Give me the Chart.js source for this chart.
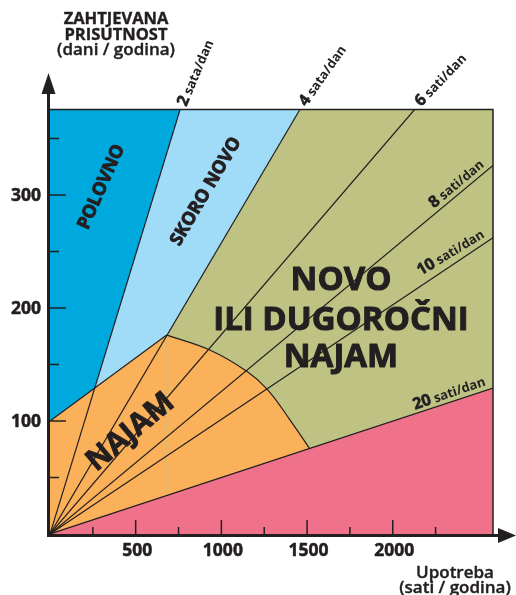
<!DOCTYPE html>
<html>
<head>
<meta charset="utf-8">
<script src="https://cdn.jsdelivr.net/npm/chart.js@4/dist/chart.umd.min.js"></script>
<style>
  body { margin: 0; background: #fff; }
  #wrap { width: 516px; height: 595px; }
</style>
</head>
<body>
<div id="wrap"><canvas id="chart" width="516" height="595"></canvas></div>
<script>
// axis ranges (sati/godina, dani/godina)
const xMax = 2585;
const yMax = 376;

// tick marks and labels
const xTickLabels = [500, 1000, 1500, 2000];
const xMinorTicks = [250, 750, 1250, 1750, 2250];
const yTickLabels = [100, 200, 300];
const yMinorTicks = [50, 150, 250, 350];

// lines of constant daily use, from the origin to where they leave the plot
const hourLabels = ['2 sata/dan', '4 sata/dan', '6 sati/dan', '8 sati/dan', '10 sati/dan', '20 sati/dan'];
const hourEndX = [760, 1460, 2130, 2585, 2585, 2585];
const hourEndY = [376, 376, 376, 326, 262, 129];

// border between the blue zones and NAJAM
const rentEdgeX = [0, 681];
const rentEdgeY = [100, 176];

// curved border of NAJAM
const arcX = [681, 929, 1148, 1268, 1400, 1513];
const arcY = [176, 163, 144, 128, 101, 76];

const ink = '#231f20';
const colors = {
    darkBlue: '#00a9dd',
    lightBlue: '#a0dcf7',
    green: '#bec384',
    orange: '#fbb15a',
    pink: '#f0728a'
};
const FONT = '"Open Sans", "DejaVu Sans", sans-serif';

function pts(xs, ys) {
    return xs.map((x, i) => ({ x: x, y: ys[i] }));
}

// datasets: index 0 is drawn on top
const datasets = [];

hourLabels.forEach((lbl, i) => {
    datasets.push({
        data: pts([0, hourEndX[i]], [0, hourEndY[i]]),
        borderColor: ink, borderWidth: 1.2, fill: false
    });
});
// pink zone under 20 sati/dan
datasets.push({
    data: pts([0, hourEndX[5]], [0, hourEndY[5]]),
    borderWidth: 0, borderColor: 'transparent',
    backgroundColor: colors.pink, fill: 'origin'
});
// NAJAM, curved part
datasets.push({
    data: pts(arcX, arcY),
    borderColor: ink, borderWidth: 1.2,
    tension: 0.4,
    backgroundColor: colors.orange, fill: 'origin'
});
// NAJAM, straight part
datasets.push({
    data: pts(rentEdgeX, rentEdgeY),
    borderColor: ink, borderWidth: 1.2,
    backgroundColor: colors.orange, fill: 'origin'
});
// POLOVNO, left of 2 sata/dan
datasets.push({
    data: pts([0, hourEndX[0]], [0, hourEndY[0]]),
    borderWidth: 0, borderColor: 'transparent',
    backgroundColor: colors.darkBlue, fill: 'end'
});
// SKORO NOVO, left of 4 sata/dan
datasets.push({
    data: pts([0, hourEndX[1]], [0, hourEndY[1]]),
    borderWidth: 0, borderColor: 'transparent',
    backgroundColor: colors.lightBlue, fill: 'end'
});
// NOVO background
datasets.push({
    data: pts([0, xMax], [0, 0]),
    borderWidth: 0, borderColor: 'transparent',
    backgroundColor: colors.green, fill: 'end'
});

// heavy text: fill plus a thin stroke
function heavy(ctx, text, x, y, maxW, sw) {
    ctx.lineWidth = sw;
    ctx.lineJoin = 'round';
    ctx.fillText(text, x, y, maxW);
    ctx.strokeText(text, x, y, maxW);
}

function rotText(ctx, text, cx, cy, deg, font, maxW) {
    ctx.save();
    ctx.translate(cx, cy);
    ctx.rotate(deg * Math.PI / 180);
    ctx.font = font;
    ctx.textAlign = 'center';
    ctx.textBaseline = 'middle';
    heavy(ctx, text, 0, 0, maxW, 0.9);
    ctx.restore();
}

function hourText(ctx, label, ax, ay, deg, align) {
    const parts = label.split(' ');
    const fNum = 'bold 16px ' + FONT;
    const fRest = 'bold 13px ' + FONT;
    ctx.save();
    ctx.translate(ax, ay);
    ctx.rotate(deg * Math.PI / 180);
    ctx.textAlign = 'left';
    ctx.textBaseline = 'alphabetic';
    ctx.font = fNum;
    const w1 = ctx.measureText(parts[0]).width;
    ctx.font = fRest;
    const w2 = ctx.measureText(' ' + parts[1]).width;
    const x0 = align === 'right' ? -(w1 + w2) : 0;
    ctx.font = fNum;
    heavy(ctx, parts[0], x0, 0, undefined, 0.6);
    ctx.font = fRest;
    ctx.fillText(' ' + parts[1], x0 + w1, 0);
    ctx.restore();
}

const hourAngles = [-67, -55, -46, -40, -31, -19];

const decor = {
    id: 'decor',
    afterDatasetsDraw(chart) {
        const { ctx, chartArea: a, scales: { x, y } } = chart;
        ctx.save();
        ctx.strokeStyle = ink;
        ctx.fillStyle = ink;

        // frame top/right
        ctx.lineWidth = 1.5;
        ctx.beginPath();
        ctx.moveTo(a.left, a.top + 0.5);
        ctx.lineTo(a.right, a.top + 0.5);
        ctx.lineTo(a.right, a.bottom);
        ctx.stroke();

        // axes with arrows
        const ax = a.left - 1.5, ay = a.bottom + 1.5;
        ctx.lineWidth = 3;
        ctx.beginPath();
        ctx.moveTo(ax, ay + 1.5);
        ctx.lineTo(ax, 90);
        ctx.moveTo(ax - 1.5, ay);
        ctx.lineTo(500, ay);
        ctx.stroke();
        ctx.beginPath();
        ctx.moveTo(ax, 73);
        ctx.lineTo(ax - 7, 94);
        ctx.lineTo(ax + 7, 94);
        ctx.closePath();
        ctx.fill();
        ctx.beginPath();
        ctx.moveTo(516, ay);
        ctx.lineTo(498, ay - 7.5);
        ctx.lineTo(498, ay + 7.5);
        ctx.closePath();
        ctx.fill();

        // ticks
        ctx.lineWidth = 1.5;
        ctx.beginPath();
        yTickLabels.forEach(v => { const p = y.getPixelForValue(v); ctx.moveTo(a.left, p); ctx.lineTo(a.left + 16, p); });
        yMinorTicks.forEach(v => { const p = y.getPixelForValue(v); ctx.moveTo(a.left, p); ctx.lineTo(a.left + 9, p); });
        xTickLabels.forEach(v => { const p = x.getPixelForValue(v); ctx.moveTo(p, a.bottom); ctx.lineTo(p, a.bottom - 14); });
        xMinorTicks.forEach(v => { const p = x.getPixelForValue(v); ctx.moveTo(p, a.bottom); ctx.lineTo(p, a.bottom - 7); });
        ctx.stroke();

        // tick labels
        ctx.font = 'bold 17.5px ' + FONT;
        ctx.textBaseline = 'alphabetic';
        ctx.textAlign = 'right';
        yTickLabels.forEach(v => heavy(ctx, String(v), 41, y.getPixelForValue(v) + 6.5, undefined, 0.5));
        ctx.textAlign = 'center';
        xTickLabels.forEach(v => heavy(ctx, String(v), x.getPixelForValue(v) + 1.5, 556, undefined, 0.5));

        // axis titles
        ctx.font = 'bold 16.5px ' + FONT;
        heavy(ctx, 'ZAHTJEVANA', 116, 24, 108, 0.4);
        heavy(ctx, 'PRISUTNOST', 116, 40, 108, 0.4);
        ctx.font = '600 17px ' + FONT;
        heavy(ctx, '(dani / godina)', 116, 55, 122, 0.4);
        heavy(ctx, 'Upotreba', 455, 578, 81, 0.4);
        heavy(ctx, '(sati / godina)', 455, 593, 117, 0.4);

        // labels on the lines of daily use
        const ox = x.getPixelForValue(0), oy = y.getPixelForValue(0);
        hourLabels.forEach((lbl, i) => {
            const ex = x.getPixelForValue(hourEndX[i]), ey = y.getPixelForValue(hourEndY[i]);
            const deg = hourAngles[i];
            if (hourEndY[i] >= yMax) {
                hourText(ctx, lbl, ex + 6, ey - 2, deg, 'left');
            } else {
                const px = a.right - 5;
                const py = oy + (px - ox) / (ex - ox) * (ey - oy);
                const r = deg * Math.PI / 180;
                hourText(ctx, lbl, px + 5 * Math.sin(r), py - 5 * Math.cos(r), deg, 'right');
            }
        });

        // zone labels
        rotText(ctx, 'POLOVNO', x.getPixelForValue(300), y.getPixelForValue(307), -66, 'bold 18px ' + FONT, 92);
        rotText(ctx, 'SKORO NOVO', x.getPixelForValue(910), y.getPixelForValue(303), -59.5, 'bold 18px ' + FONT, 127);
        rotText(ctx, 'NAJAM', x.getPixelForValue(470), y.getPixelForValue(90), -40, 'bold 30px ' + FONT, 113);

        ctx.font = 'bold 33px ' + FONT;
        ctx.textAlign = 'center';
        ctx.textBaseline = 'alphabetic';
        const cx = x.getPixelForValue(1698);
        heavy(ctx, 'NOVO', cx, y.getPixelForValue(216), 103, 1);
        heavy(ctx, 'ILI DUGOROČNI', cx, y.getPixelForValue(180.5), 265, 1);
        heavy(ctx, 'NAJAM', cx, y.getPixelForValue(148), 123, 1);

        ctx.restore();
    }
};

new Chart(document.getElementById('chart'), {
    type: 'line',
    data: { datasets: datasets },
    options: {
        responsive: false,
        animation: false,
        layout: { padding: { left: 50, right: 23, top: 109, bottom: 61 } },
        elements: { point: { radius: 0 } },
        scales: {
            x: { type: 'linear', min: 0, max: xMax, display: false },
            y: { type: 'linear', min: 0, max: yMax, display: false }
        },
        plugins: { legend: { display: false }, tooltip: { enabled: false } }
    },
    plugins: [decor]
});
</script>
</body>
</html>
